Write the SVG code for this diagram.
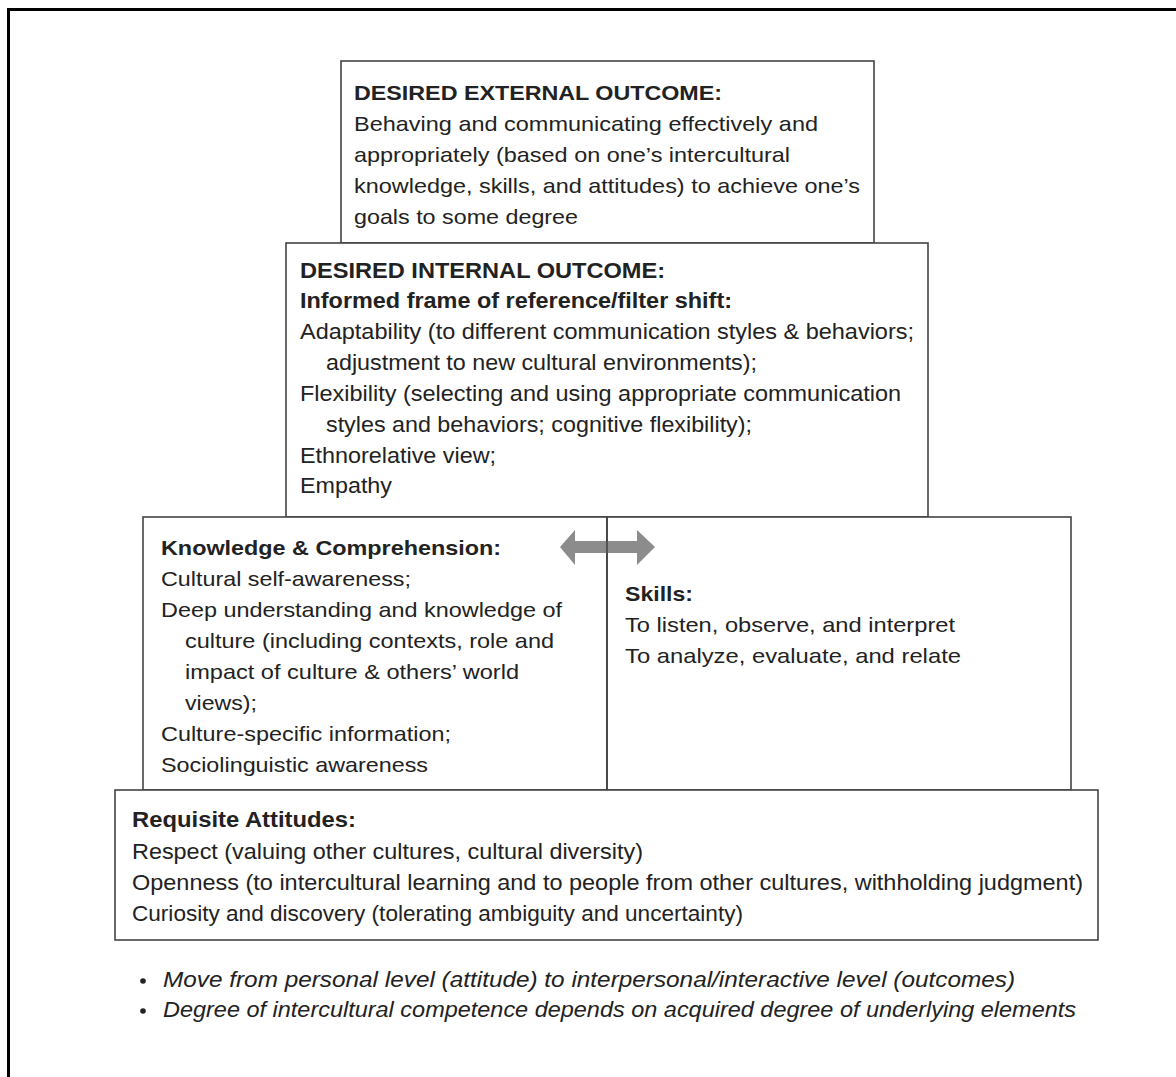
<svg xmlns="http://www.w3.org/2000/svg" width="1176" height="1077" viewBox="0 0 1176 1077">
<style>
.box{fill:#fff;stroke:#444;stroke-width:1.6}
.t{font-family:"Liberation Sans",Arial,sans-serif;font-size:21px;fill:#222}
.n{font-size:22px}
.b{font-weight:bold}
.i{font-style:italic}
</style>
<rect x="0" y="0" width="1176" height="1077" fill="#fff"/>
<path d="M8.5,1077 V9.5 H1176" fill="none" stroke="#000" stroke-width="3"/>
<g id="external">
<rect class="box" x="341" y="61" width="533" height="182"/>
<text class="t b" x="354" y="100" textLength="368" lengthAdjust="spacingAndGlyphs">DESIRED EXTERNAL OUTCOME:</text>
<text class="t" x="354" y="131" textLength="464" lengthAdjust="spacingAndGlyphs">Behaving and communicating effectively and</text>
<text class="t" x="354" y="162" textLength="436" lengthAdjust="spacingAndGlyphs">appropriately (based on one’s intercultural</text>
<text class="t" x="354" y="193" textLength="506" lengthAdjust="spacingAndGlyphs">knowledge, skills, and attitudes) to achieve one’s</text>
<text class="t" x="354" y="224" textLength="224" lengthAdjust="spacingAndGlyphs">goals to some degree</text>
</g>
<g id="internal">
<rect class="box" x="286" y="243" width="642" height="274"/>
<text class="t n b" x="300" y="278" textLength="365" lengthAdjust="spacingAndGlyphs">DESIRED INTERNAL OUTCOME:</text>
<text class="t n b" x="300" y="308" textLength="432" lengthAdjust="spacingAndGlyphs">Informed frame of reference/filter shift:</text>
<text class="t n" x="300" y="339" textLength="614" lengthAdjust="spacingAndGlyphs">Adaptability (to different communication styles &amp; behaviors;</text>
<text class="t n" x="326" y="370" textLength="431" lengthAdjust="spacingAndGlyphs">adjustment to new cultural environments);</text>
<text class="t n" x="300" y="401" textLength="601" lengthAdjust="spacingAndGlyphs">Flexibility (selecting and using appropriate communication</text>
<text class="t n" x="326" y="432" textLength="426" lengthAdjust="spacingAndGlyphs">styles and behaviors; cognitive flexibility);</text>
<text class="t n" x="300" y="463" textLength="196" lengthAdjust="spacingAndGlyphs">Ethnorelative view;</text>
<text class="t n" x="300" y="493" textLength="92" lengthAdjust="spacingAndGlyphs">Empathy</text>
</g>
<g id="knowledge">
<rect class="box" x="143" y="517" width="464" height="273"/>
<text class="t b" x="161" y="555" textLength="340" lengthAdjust="spacingAndGlyphs">Knowledge &amp; Comprehension:</text>
<text class="t" x="161" y="586" textLength="250" lengthAdjust="spacingAndGlyphs">Cultural self-awareness;</text>
<text class="t" x="161" y="617" textLength="401" lengthAdjust="spacingAndGlyphs">Deep understanding and knowledge of</text>
<text class="t" x="185" y="648" textLength="369" lengthAdjust="spacingAndGlyphs">culture (including contexts, role and</text>
<text class="t" x="185" y="679" textLength="334" lengthAdjust="spacingAndGlyphs">impact of culture &amp; others’ world</text>
<text class="t" x="185" y="710" textLength="72" lengthAdjust="spacingAndGlyphs">views);</text>
<text class="t" x="161" y="741" textLength="290" lengthAdjust="spacingAndGlyphs">Culture-specific information;</text>
<text class="t" x="161" y="772" textLength="267" lengthAdjust="spacingAndGlyphs">Sociolinguistic awareness</text>
</g>
<g id="skills">
<rect class="box" x="607" y="517" width="464" height="273"/>
<text class="t b" x="625" y="601" textLength="68" lengthAdjust="spacingAndGlyphs">Skills:</text>
<text class="t" x="625" y="632" textLength="330" lengthAdjust="spacingAndGlyphs">To listen, observe, and interpret</text>
<text class="t" x="625" y="663" textLength="336" lengthAdjust="spacingAndGlyphs">To analyze, evaluate, and relate</text>
</g>
<g id="connectors">
<polygon points="560,547 575,530 575,541 637,541 637,530 655,547 637,565 637,553 575,553 575,565" fill="#8c8c8c"/>
<line x1="607" y1="517" x2="607" y2="790" stroke="#444" stroke-width="1.6"/>
</g>
<g id="attitudes">
<rect class="box" x="115" y="790" width="983" height="150"/>
<text class="t n b" x="132" y="827" textLength="224" lengthAdjust="spacingAndGlyphs">Requisite Attitudes:</text>
<text class="t n" x="132" y="859" textLength="511" lengthAdjust="spacingAndGlyphs">Respect (valuing other cultures, cultural diversity)</text>
<text class="t n" x="132" y="890" textLength="951" lengthAdjust="spacingAndGlyphs">Openness (to intercultural learning and to people from other cultures, withholding judgment)</text>
<text class="t n" x="132" y="921" textLength="611" lengthAdjust="spacingAndGlyphs">Curiosity and discovery (tolerating ambiguity and uncertainty)</text>
</g>
<g id="notes">
<circle cx="143" cy="981" r="2.8" fill="#222"/>
<circle cx="143" cy="1011" r="2.8" fill="#222"/>
<text class="t n i" x="163" y="987" textLength="852" lengthAdjust="spacingAndGlyphs">Move from personal level (attitude) to interpersonal/interactive level (outcomes)</text>
<text class="t n i" x="163" y="1017" textLength="913" lengthAdjust="spacingAndGlyphs">Degree of intercultural competence depends on acquired degree of underlying elements</text>
</g>
</svg>
